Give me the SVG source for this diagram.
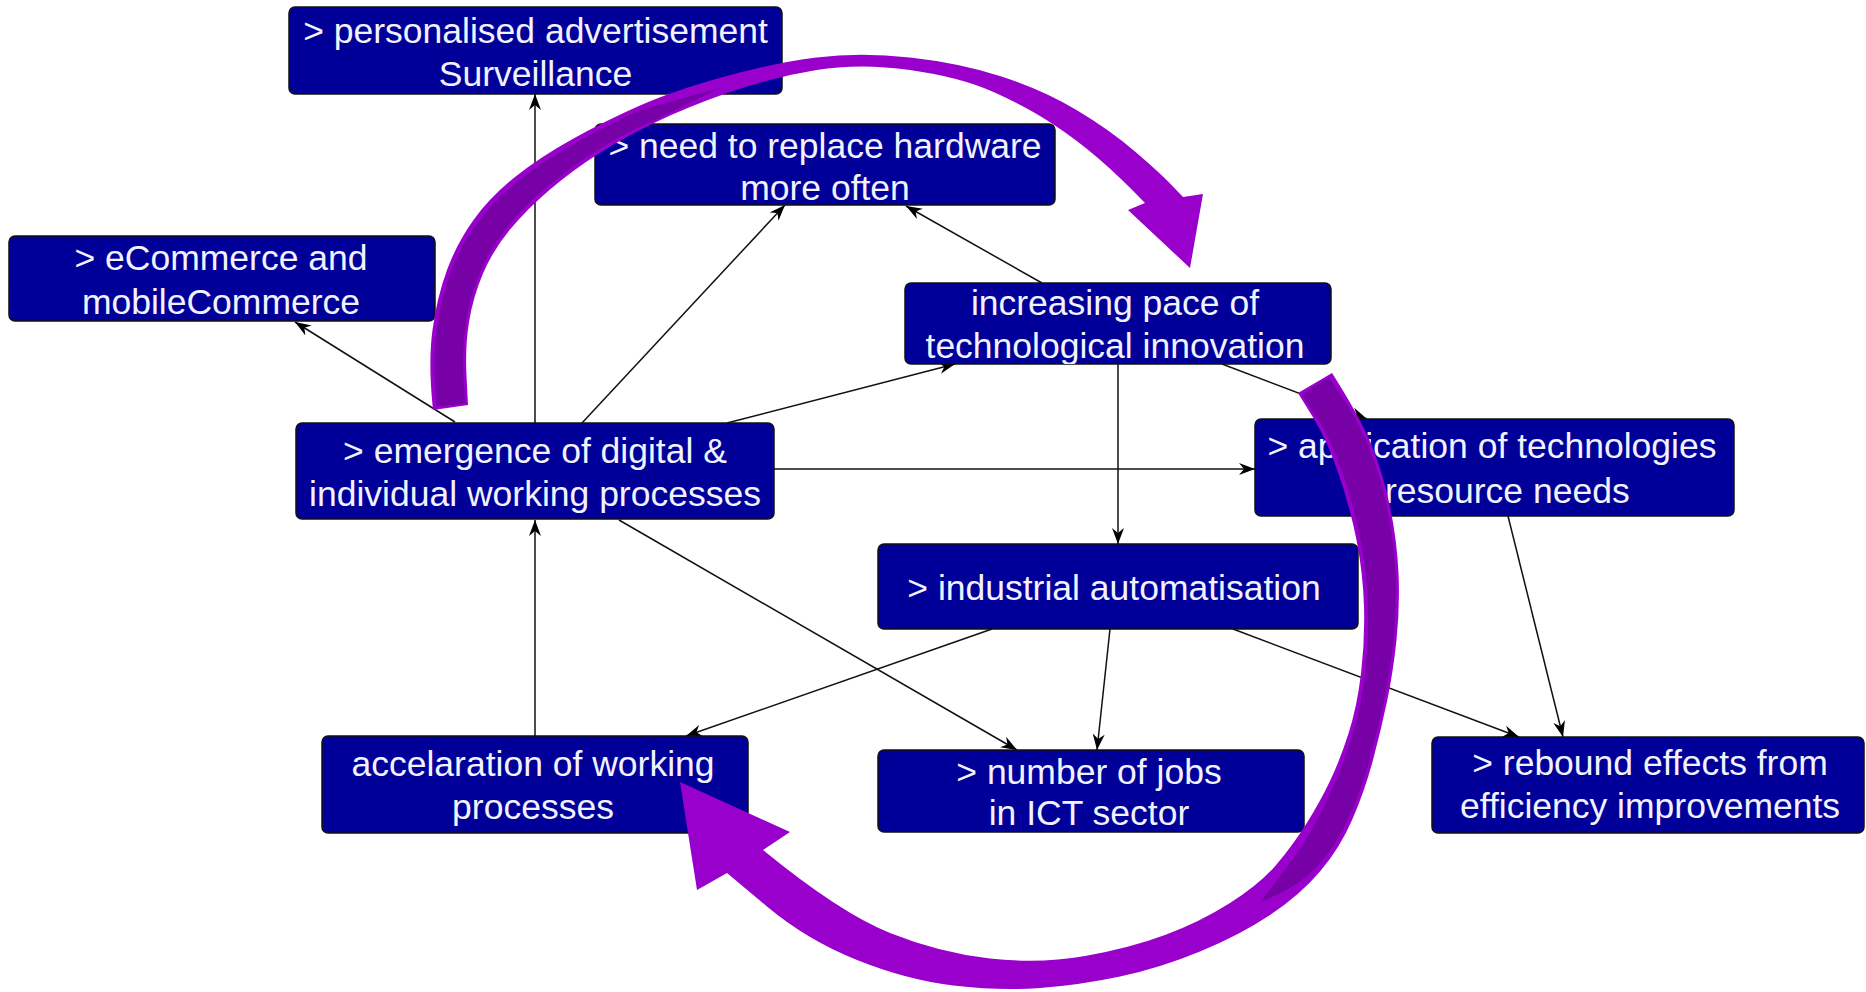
<svg xmlns="http://www.w3.org/2000/svg" width="1866" height="992" viewBox="0 0 1866 992">
<style>
.node rect { fill:#000099; stroke:#111; stroke-width:1.5; }
.node text { font-family:"Liberation Sans", Arial, sans-serif; font-size:35.5px; fill:#f2f2ff; text-anchor:middle; }
.conn line { stroke:#111; stroke-width:1.5; marker-end:url(#ah); }
.arc-light { fill:#9900cc; }
.arc-dark { fill:#7700a6; }
</style>
<defs>
<marker id="ah" markerUnits="userSpaceOnUse" markerWidth="18" markerHeight="14" refX="16" refY="7" orient="auto">
<path d="M0,1 L16,7 L0,13 L5,7 z" fill="#000"/>
</marker>
<clipPath id="clipInc"><rect x="905" y="283" width="426" height="81" rx="6"/></clipPath>
</defs>
<rect width="1866" height="992" fill="#fff"/>

<g id="connectors" class="conn">
<line x1="535" y1="423" x2="535" y2="94"/>
<line x1="455" y1="422" x2="295" y2="322"/>
<line x1="582" y1="423" x2="785" y2="205"/>
<line x1="1042" y1="283" x2="906" y2="206"/>
<line x1="727" y1="423" x2="955" y2="364"/>
<line x1="774" y1="469" x2="1255" y2="469"/>
<line x1="1118" y1="364" x2="1118" y2="544"/>
<line x1="1222" y1="364" x2="1367" y2="419"/>
<line x1="1508" y1="516" x2="1563" y2="737"/>
<line x1="1233" y1="629" x2="1519" y2="737"/>
<line x1="1110" y1="629" x2="1097" y2="750"/>
<line x1="992" y1="629" x2="686" y2="736"/>
<line x1="619" y1="520" x2="1017" y2="750"/>
<line x1="535" y1="736" x2="535" y2="520"/>
</g>

<g id="n-personalised" class="node">
<rect x="289" y="7" width="493" height="87" rx="6"/>
<text x="535.5" y="43">&gt; personalised advertisement</text>
<text x="535.5" y="86">Surveillance</text>
</g>
<g id="n-hardware" class="node">
<rect x="595" y="124" width="460" height="81" rx="6"/>
<text x="825" y="158">&gt; need to replace hardware</text>
<text x="825" y="200">more often</text>
</g>
<g id="n-pace" class="node">
<rect x="905" y="283" width="426" height="81" rx="6"/>
<g clip-path="url(#clipInc)">
<text x="1115" y="315">increasing pace of</text>
<text x="1115" y="358">technological innovation</text>
</g>
</g>
<g id="n-ecommerce" class="node">
<rect x="9" y="236" width="426" height="85" rx="6"/>
<text x="221" y="270">&gt; eCommerce and</text>
<text x="221" y="314">mobileCommerce</text>
</g>
<g id="n-emergence" class="node">
<rect x="296" y="423" width="478" height="96" rx="6"/>
<text x="535" y="463">&gt; emergence of digital &amp;</text>
<text x="535" y="506">individual working processes</text>
</g>
<g id="n-application" class="node">
<rect x="1255" y="419" width="479" height="97" rx="6"/>
<text x="1492" y="458">&gt; application of technologies</text>
<text x="1492" y="503">&gt; resource needs</text>
</g>
<g id="n-industrial" class="node">
<rect x="878" y="544" width="480" height="85" rx="6"/>
<text x="1114" y="600">&gt; industrial automatisation</text>
</g>
<g id="n-jobs" class="node">
<rect x="878" y="750" width="426" height="82" rx="6"/>
<text x="1089" y="784">&gt; number of jobs</text>
<text x="1089" y="825">in ICT sector</text>
</g>
<g id="n-acceleration" class="node">
<rect x="322" y="736" width="426" height="97" rx="6"/>
<text x="533" y="776">accelaration of working</text>
<text x="533" y="819">processes</text>
</g>
<g id="n-rebound" class="node">
<rect x="1432" y="737" width="432" height="96" rx="6"/>
<text x="1650" y="775">&gt; rebound effects from</text>
<text x="1650" y="818">efficiency improvements</text>
</g>

<g id="cycle-upper">
<path class="arc-light" d="M433,410 Q428,363 432.5,330 Q437,297 447,270 Q457,243 473.5,220 Q490,197 515,177 Q540,157 573.5,138.5 Q607,120 640,105.5 Q673,91 723,77 Q773,63 816.5,57.5 Q860,52 910,57.5 Q960,63 1001.5,76.5 Q1043,90 1076.5,110 Q1110,130 1135,151.5 Q1160,173 1171.5,185 L1183,197 L1203,194 L1190,268 L1128,210 L1145,203 Q1120,177 1098.5,158.5 Q1077,140 1052,123.5 Q1027,107 993.5,92 Q960,77 910,70 Q860,63 816.5,70 Q773,77 730,92 Q687,107 655,122.5 Q623,138 598,154 Q573,170 550,189.5 Q527,209 510,229.5 Q493,250 483,273.5 Q473,297 469,322 Q465,347 466.5,376 L468,405 Z"/>
<path class="arc-dark" d="M437,407 Q432,363 436.5,330 Q441,297 451,271 Q461,245 477,223 Q493,201 518,181 Q543,161 576,142.5 Q609,124 640,110 L720,88 L655,120 Q621,135 596,151 Q571,167 548,186 Q525,205 507.5,227 Q490,249 480,272.5 Q470,296 466,321.5 Q462,347 463.5,375 L465,403 Z"/>
</g>

<g id="cycle-lower">
<path class="arc-light" d="M1332,373 Q1360,417 1371.5,445 Q1383,473 1390,506.5 Q1397,540 1398.5,573.5 Q1400,607 1396.5,640 Q1393,673 1387,701.5 Q1381,730 1373,760 Q1365,790 1352.5,819 Q1340,848 1320,871.5 Q1300,895 1270,915 Q1240,935 1200,951.5 Q1160,968 1120,976.5 Q1080,985 1040,988 Q1000,991 953.5,985.5 Q907,980 857,960 Q807,940 767,906.5 L727,873 L697,890 L680,782 L790,832 L763,850 Q840,913 890,933 Q940,953 990,958.5 Q1040,964 1085,956 Q1130,948 1165,935 Q1200,922 1230,903 Q1260,884 1276.5,864.5 Q1293,845 1306.5,823.5 Q1320,802 1330,781 Q1340,760 1348.5,733.5 Q1357,707 1361,673.5 Q1365,640 1364,606.5 Q1363,573 1356.5,540 Q1350,507 1338.5,473.5 Q1327,440 1312.5,416.5 L1298,393 Z"/>
<path class="arc-dark" d="M1302,395 L1329,377 Q1357,418 1368.5,446 Q1380,474 1387,507 Q1394,540 1395.5,573.5 Q1397,607 1393.5,639.5 Q1390,672 1384,700.5 Q1378,729 1370,758.5 Q1362,788 1349.5,816.5 Q1337,845 1316.5,867 Q1296,889 1260,902 Q1300,852 1312.5,828.5 Q1325,805 1334.5,783.5 Q1344,762 1352.5,735 Q1361,708 1365,674 Q1369,640 1368,606.5 Q1367,573 1360.5,539.5 Q1354,506 1342.5,472.5 Q1331,439 1316.5,417 Z"/>
</g>
</svg>
